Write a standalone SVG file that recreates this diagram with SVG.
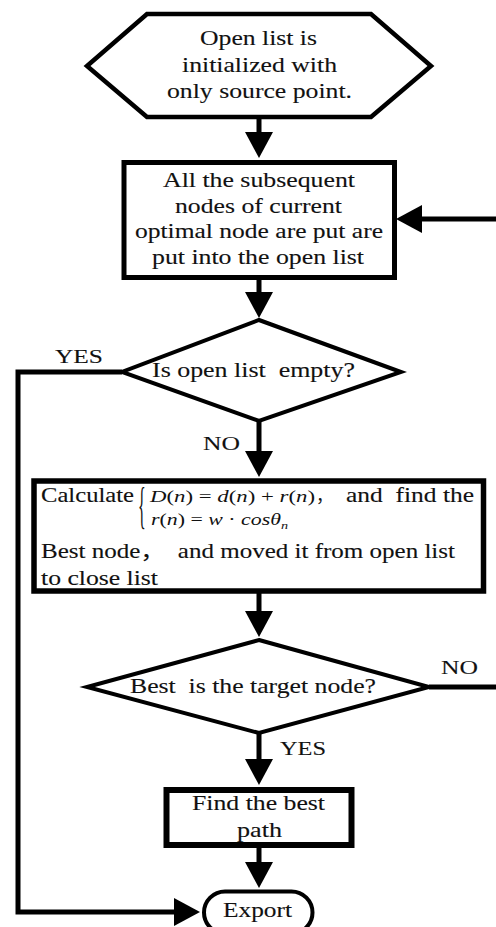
<svg xmlns="http://www.w3.org/2000/svg" width="496" height="927" viewBox="0 0 496 927">
<style>
.t{font-family:"Liberation Serif","Times New Roman",serif;font-size:21px;fill:#111;stroke:#111;stroke-width:0.12;white-space:pre}
.lb{font-family:"Liberation Serif","Times New Roman",serif;font-size:19px;fill:#111;stroke:#111;stroke-width:0.1;white-space:pre}
.m{font-family:"Liberation Serif","Times New Roman",serif;font-size:17px;fill:#111;white-space:pre}
.cjk{font-family:"Noto Sans CJK SC",sans-serif}
.i{font-style:italic}
.shape{fill:#fff;stroke:#000;stroke-linejoin:miter}
.conn{fill:none;stroke:#000;stroke-width:5;stroke-linejoin:miter}
</style>
<defs>
<marker id="ah" viewBox="0 0 26 28" refX="2" refY="14" markerWidth="26" markerHeight="28" markerUnits="userSpaceOnUse" orient="auto">
<path d="M0,0 L26,14 L0,28 Z" fill="#000"/>
</marker>
</defs>
<rect width="496" height="927" fill="#fff"/>

<g id="connectors">
<path class="conn" d="M259,117 V134" marker-end="url(#ah)"/>
<path class="conn" d="M259,279 V294" marker-end="url(#ah)"/>
<path class="conn" d="M259,421 V453" marker-end="url(#ah)"/>
<path class="conn" d="M259,593 V613" marker-end="url(#ah)"/>
<path class="conn" d="M259,733 V761" marker-end="url(#ah)"/>
<path class="conn" d="M259,847 V864" marker-end="url(#ah)"/>
<path class="conn" d="M122,372 H18 V912 H176" marker-end="url(#ah)"/>
<path class="conn" d="M429,687 H505 V219 H420" marker-end="url(#ah)"/>
<text class="lb" x="55" y="363" textLength="48" lengthAdjust="spacingAndGlyphs">YES</text>
<text class="lb" x="203" y="450" textLength="37" lengthAdjust="spacingAndGlyphs">NO</text>
<text class="lb" x="441" y="674" textLength="37" lengthAdjust="spacingAndGlyphs">NO</text>
<text class="lb" x="280" y="755" textLength="46" lengthAdjust="spacingAndGlyphs">YES</text>
</g>

<g id="start">
<polygon class="shape" stroke-width="4.5" points="147,14 371,14 431,66 371,117 147,117 87,66"/>
<text class="t" x="200" y="45" textLength="117" lengthAdjust="spacingAndGlyphs">Open list is</text>
<text class="t" x="182" y="72" textLength="155" lengthAdjust="spacingAndGlyphs">initialized with</text>
<text class="t" x="167" y="98" textLength="185" lengthAdjust="spacingAndGlyphs">only source point.</text>
</g>

<g id="expand">
<rect class="shape" stroke-width="5" x="124" y="162.5" width="270.5" height="115"/>
<text class="t" x="163" y="187" textLength="192" lengthAdjust="spacingAndGlyphs">All the subsequent</text>
<text class="t" x="175" y="213" textLength="167" lengthAdjust="spacingAndGlyphs">nodes of current</text>
<text class="t" x="135" y="238" textLength="248" lengthAdjust="spacingAndGlyphs">optimal node are put are</text>
<text class="t" x="152" y="264" textLength="212" lengthAdjust="spacingAndGlyphs">put into the open list</text>
</g>

<g id="empty">
<polygon class="shape" stroke-width="4" points="259,320 401,372 259,421 122,372"/>
<text class="t" x="152" y="377" textLength="203" lengthAdjust="spacingAndGlyphs">Is open list  empty?</text>
</g>

<g id="calc">
<rect class="shape" stroke-width="5.5" x="34" y="481" width="449.5" height="110"/>
<text class="t" x="41" y="502" textLength="93" lengthAdjust="spacingAndGlyphs">Calculate</text>
<text class="t" transform="translate(138,522) scale(0.32,1)" style="font-size:50px;stroke-width:0">{</text>
<text class="m" x="150" y="502" textLength="165" lengthAdjust="spacingAndGlyphs"><tspan class="i">D</tspan>(<tspan class="i">n</tspan>) = <tspan class="i">d</tspan>(<tspan class="i">n</tspan>) + <tspan class="i">r</tspan>(<tspan class="i">n</tspan>)</text>
<text class="m cjk" x="316" y="502">，</text>
<text class="t" x="346" y="502" textLength="128" lengthAdjust="spacingAndGlyphs">and  find the</text>
<text class="m" x="151" y="525" textLength="137" lengthAdjust="spacingAndGlyphs"><tspan class="i">r</tspan>(<tspan class="i">n</tspan>) = <tspan class="i">w</tspan> · <tspan class="i">cosθ</tspan><tspan class="i" dy="4" style="font-size:11px">n</tspan></text>
<text class="t" x="41" y="558" textLength="414" lengthAdjust="spacingAndGlyphs">Best node<tspan class="cjk">，</tspan>  and moved it from open list</text>
<text class="t" x="41" y="585" textLength="117" lengthAdjust="spacingAndGlyphs">to close list</text>
</g>

<g id="target">
<polygon class="shape" stroke-width="4" points="259,640 429,687 259,733 87,687"/>
<text class="t" x="130" y="693" textLength="246" lengthAdjust="spacingAndGlyphs">Best  is the target node?</text>
</g>

<g id="path">
<rect class="shape" stroke-width="6" x="166.5" y="790" width="185" height="55"/>
<text class="t" x="192" y="810" textLength="133" lengthAdjust="spacingAndGlyphs">Find the best</text>
<text class="t" x="237" y="837" textLength="45" lengthAdjust="spacingAndGlyphs">path</text>
</g>

<g id="export">
<rect class="shape" stroke-width="4" x="204" y="891.5" width="108.5" height="42" rx="21"/>
<text class="t" x="223" y="917" textLength="69" lengthAdjust="spacingAndGlyphs">Export</text>
</g>
</svg>
